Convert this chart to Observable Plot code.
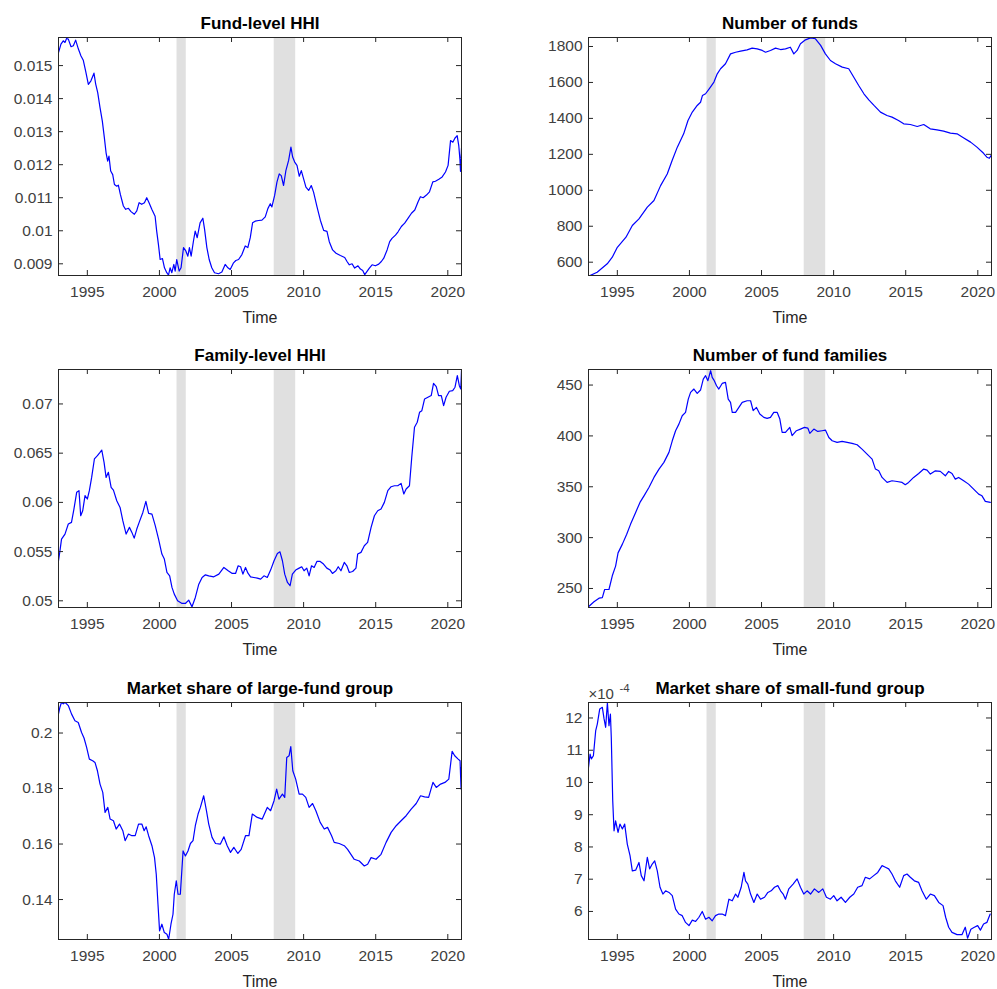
<!DOCTYPE html>
<html>
<head>
<meta charset="utf-8">
<script src="https://cdn.jsdelivr.net/npm/d3@7"></script>
<script src="https://cdn.jsdelivr.net/npm/@observablehq/plot@0.6"></script>
<style>
  html, body { margin: 0; padding: 0; background: white; }
  #root { position: relative; width: 997px; height: 989px; background: white; }
  .panel { position: absolute; }
</style>
</head>
<body>
<div id="root"></div>
<script>
// ---------- data ----------
const xTicks = [1995, 2000, 2005, 2010, 2015, 2020];
const xDomain = [1993, 2020.95];
const recessions = [[2001.22, 2001.86], [2007.96, 2009.45]];

const fundHHI = [[1993.0,0.01539],[1993.17,0.01565],[1993.33,0.01575],[1993.45,0.0157],[1993.56,0.01582],[1993.68,0.0158],[1993.87,0.01557],[1994.03,0.0156],[1994.19,0.01577],[1994.38,0.0155],[1994.56,0.01529],[1994.72,0.01516],[1994.88,0.01484],[1995.07,0.01443],[1995.25,0.01454],[1995.46,0.01477],[1995.58,0.01444],[1995.72,0.01418],[1995.88,0.01373],[1996.04,0.01332],[1996.18,0.01282],[1996.30,0.01236],[1996.41,0.01211],[1996.50,0.01226],[1996.62,0.01181],[1996.76,0.0117],[1996.88,0.0114],[1997.04,0.01135],[1997.15,0.01138],[1997.29,0.0111],[1997.50,0.01075],[1997.66,0.01065],[1997.85,0.01068],[1998.03,0.01058],[1998.26,0.0105],[1998.43,0.0106],[1998.59,0.01085],[1998.77,0.0108],[1998.96,0.01085],[1999.12,0.011],[1999.28,0.01085],[1999.47,0.01065],[1999.70,0.01044],[1999.81,0.00999],[1999.93,0.00959],[2000.05,0.00913],[2000.21,0.00916],[2000.35,0.00888],[2000.51,0.00873],[2000.63,0.00866],[2000.74,0.00888],[2000.86,0.00873],[2001.00,0.00898],[2001.09,0.00878],[2001.20,0.00913],[2001.37,0.00878],[2001.50,0.00888],[2001.67,0.00949],[2001.83,0.00939],[2001.97,0.00923],[2002.08,0.00949],[2002.20,0.00923],[2002.36,0.00969],[2002.48,0.00999],[2002.62,0.00979],[2002.82,0.01024],[2003.01,0.01038],[2003.13,0.01005],[2003.29,0.00949],[2003.45,0.00913],[2003.63,0.00888],[2003.82,0.00873],[2004.10,0.0087],[2004.33,0.00875],[2004.56,0.00898],[2004.75,0.00888],[2004.91,0.00883],[2005.14,0.00903],[2005.30,0.0091],[2005.49,0.00913],[2005.72,0.00928],[2005.95,0.00954],[2006.13,0.00949],[2006.30,0.00979],[2006.46,0.01024],[2006.64,0.01029],[2006.88,0.01031],[2007.11,0.01032],[2007.34,0.01042],[2007.52,0.01067],[2007.69,0.01082],[2007.80,0.01072],[2007.99,0.01107],[2008.15,0.01147],[2008.31,0.01172],[2008.45,0.01167],[2008.61,0.01137],[2008.77,0.01182],[2008.96,0.01213],[2009.12,0.01253],[2009.24,0.01223],[2009.38,0.01208],[2009.54,0.01198],[2009.70,0.01165],[2009.84,0.01182],[2010.00,0.01157],[2010.16,0.01132],[2010.35,0.01122],[2010.53,0.01137],[2010.69,0.01117],[2010.93,0.01072],[2011.16,0.01032],[2011.39,0.01001],[2011.62,0.00998],[2011.78,0.00967],[2012.01,0.00942],[2012.25,0.00932],[2012.55,0.00925],[2012.85,0.00919],[2013.01,0.00907],[2013.17,0.00897],[2013.36,0.009],[2013.54,0.00887],[2013.77,0.00894],[2013.94,0.00884],[2014.10,0.0088],[2014.24,0.00867],[2014.40,0.00877],[2014.56,0.00887],[2014.75,0.00897],[2014.98,0.00894],[2015.21,0.00899],[2015.39,0.00907],[2015.56,0.00917],[2015.79,0.00942],[2015.97,0.00967],[2016.13,0.00977],[2016.37,0.00987],[2016.55,0.00997],[2016.78,0.01013],[2017.01,0.01023],[2017.25,0.01038],[2017.48,0.01053],[2017.71,0.01063],[2017.94,0.01088],[2018.10,0.01103],[2018.29,0.011],[2018.52,0.01108],[2018.73,0.01118],[2018.96,0.01148],[2019.14,0.0115],[2019.38,0.01156],[2019.61,0.01163],[2019.84,0.01178],[2020.02,0.01198],[2020.19,0.01273],[2020.35,0.01268],[2020.49,0.0128],[2020.65,0.01288],[2020.76,0.01258],[2020.84,0.01217],[2020.88,0.0118],[2020.95,0.0125]];

const numFunds = [[1993.0,522],[1993.6,544],[1994.3,591],[1994.65,628],[1995.0,683],[1995.6,739],[1996.04,804],[1996.5,841],[1997.08,906],[1997.54,943],[1998.0,1026],[1998.46,1091],[1998.8,1166],[1999.16,1240],[1999.6,1314],[1999.9,1388],[2000.2,1435],[2000.54,1472],[2000.77,1490],[2000.9,1527],[2001.12,1537],[2001.42,1570],[2001.7,1602],[2001.93,1648],[2002.16,1676],[2002.5,1704],[2002.85,1759],[2003.2,1768],[2003.55,1774],[2004.0,1781],[2004.35,1791],[2004.7,1787],[2005.05,1778],[2005.28,1768],[2005.62,1778],[2005.97,1791],[2006.32,1783],[2006.66,1787],[2007.0,1796],[2007.24,1759],[2007.47,1778],[2007.7,1815],[2008.05,1837],[2008.4,1848],[2008.74,1843],[2009.1,1806],[2009.43,1759],[2009.78,1722],[2010.13,1704],[2010.6,1685],[2011.05,1676],[2011.4,1629],[2011.74,1583],[2012.1,1537],[2012.44,1503],[2012.8,1472],[2013.25,1435],[2013.7,1416],[2014.05,1407],[2014.5,1388],[2014.86,1370],[2015.32,1366],[2015.8,1355],[2016.25,1366],[2016.7,1342],[2017.17,1336],[2017.63,1329],[2018.1,1318],[2018.56,1314],[2019.0,1292],[2019.5,1268],[2019.94,1240],[2020.4,1206],[2020.63,1184],[2020.8,1178],[2020.93,1195]];

const familyHHI = [[1993.0,0.05407],[1993.1,0.05508],[1993.21,0.05627],[1993.45,0.05678],[1993.68,0.0578],[1993.9,0.05797],[1994.07,0.05932],[1994.26,0.06102],[1994.42,0.06119],[1994.54,0.05864],[1994.68,0.05915],[1994.84,0.06068],[1995.0,0.06034],[1995.14,0.06119],[1995.3,0.06254],[1995.49,0.06441],[1995.7,0.06475],[1995.88,0.06508],[1996.0,0.06532],[1996.16,0.06407],[1996.3,0.06254],[1996.46,0.06305],[1996.65,0.06153],[1996.81,0.06125],[1997.04,0.06017],[1997.27,0.05949],[1997.46,0.05814],[1997.69,0.05678],[1997.92,0.05746],[1998.09,0.05695],[1998.25,0.05637],[1998.43,0.05729],[1998.62,0.05807],[1998.85,0.05898],[1999.06,0.0601],[1999.25,0.05888],[1999.48,0.05881],[1999.71,0.05763],[1999.94,0.05627],[2000.17,0.05475],[2000.34,0.05424],[2000.52,0.05288],[2000.71,0.05254],[2000.87,0.05136],[2001.03,0.05068],[2001.26,0.05],[2001.57,0.04973],[2001.8,0.04973],[2002.03,0.05007],[2002.26,0.04939],[2002.49,0.05034],[2002.73,0.05169],[2002.96,0.05237],[2003.19,0.05264],[2003.42,0.05254],[2003.77,0.05244],[2004.12,0.05271],[2004.47,0.05339],[2004.77,0.05305],[2005.05,0.05278],[2005.28,0.05278],[2005.46,0.05356],[2005.63,0.05346],[2005.79,0.05271],[2005.97,0.05339],[2006.14,0.05281],[2006.32,0.05244],[2006.55,0.05237],[2006.79,0.0523],[2007.02,0.0522],[2007.25,0.05254],[2007.48,0.05237],[2007.71,0.05312],[2007.95,0.05407],[2008.18,0.05481],[2008.36,0.05498],[2008.53,0.05407],[2008.69,0.05271],[2008.88,0.05186],[2009.06,0.05153],[2009.22,0.05271],[2009.45,0.05312],[2009.69,0.05332],[2009.87,0.05346],[2010.03,0.05305],[2010.22,0.05332],[2010.38,0.05254],[2010.55,0.05356],[2010.73,0.05339],[2010.92,0.054],[2011.15,0.054],[2011.38,0.05373],[2011.61,0.05332],[2011.84,0.05312],[2012.0,0.05278],[2012.24,0.05305],[2012.4,0.05346],[2012.59,0.05305],[2012.82,0.0539],[2013.0,0.05356],[2013.17,0.05288],[2013.4,0.05298],[2013.63,0.05332],[2013.75,0.05475],[2013.98,0.05492],[2014.21,0.05559],[2014.44,0.05593],[2014.68,0.05746],[2014.91,0.05864],[2015.14,0.05915],[2015.37,0.05932],[2015.6,0.06],[2015.84,0.06119],[2016.07,0.06159],[2016.3,0.06169],[2016.53,0.06169],[2016.76,0.06193],[2016.95,0.06085],[2017.11,0.06136],[2017.34,0.06169],[2017.5,0.06458],[2017.69,0.06763],[2017.88,0.06814],[2018.04,0.06915],[2018.2,0.06932],[2018.39,0.07051],[2018.62,0.07068],[2018.85,0.07085],[2019.01,0.0721],[2019.2,0.07176],[2019.36,0.07085],[2019.55,0.07085],[2019.71,0.06983],[2019.88,0.07068],[2020.11,0.07129],[2020.34,0.07136],[2020.5,0.0717],[2020.66,0.07288],[2020.8,0.07186],[2020.9,0.07153],[2020.95,0.0734]];

const numFamilies = [[1993.0,232],[1993.38,237],[1993.73,240.5],[1993.96,241],[1994.12,249],[1994.42,249],[1994.65,262.5],[1994.88,272],[1995.05,285],[1995.35,293.6],[1995.65,303.4],[1995.92,313.3],[1996.27,324.8],[1996.57,334.6],[1996.85,341.1],[1997.19,349.3],[1997.54,359.2],[1997.89,367.4],[1998.23,374],[1998.58,383.8],[1998.81,395.2],[1999.04,405.1],[1999.27,411.6],[1999.5,419.8],[1999.73,423.1],[1999.92,436.2],[2000.08,442.8],[2000.31,446.1],[2000.54,441.8],[2000.77,445.1],[2000.96,455.9],[2001.12,459.2],[2001.28,454.3],[2001.47,464.1],[2001.58,457.5],[2001.7,454.9],[2001.88,449.3],[2002.04,446.1],[2002.27,451.6],[2002.5,452.6],[2002.69,436.2],[2002.85,433],[2002.97,423.1],[2003.2,423.1],[2003.43,428],[2003.66,433],[2004.0,434.6],[2004.24,434.6],[2004.42,424.8],[2004.65,428],[2004.88,421.5],[2005.16,418.2],[2005.39,417.2],[2005.62,418.2],[2005.85,423.1],[2006.09,423.1],[2006.27,416.6],[2006.43,403.4],[2006.66,403.4],[2006.96,408.4],[2007.12,400.2],[2007.42,405.1],[2007.7,406.7],[2007.98,408.4],[2008.21,407.7],[2008.35,402.5],[2008.63,406.7],[2008.9,404.4],[2009.2,405.1],[2009.43,405.7],[2009.67,398.4],[2009.9,395.2],[2010.24,393.6],[2010.59,394.6],[2010.94,393.6],[2011.28,392.6],[2011.63,391.3],[2011.97,387],[2012.32,382.1],[2012.67,377.2],[2012.9,367.4],[2013.13,365.7],[2013.36,359.2],[2013.71,354.3],[2014.05,355.9],[2014.4,355.2],[2014.75,354.3],[2014.97,352],[2015.2,354.3],[2015.55,359.2],[2015.9,363.1],[2016.25,367.4],[2016.48,366.4],[2016.71,362.5],[2017.06,365.7],[2017.4,365.1],[2017.75,360.8],[2017.98,365.1],[2018.21,363.1],[2018.44,357.5],[2018.67,359.2],[2019.02,355.9],[2019.36,352.6],[2019.71,347.7],[2020.06,342.8],[2020.29,341.1],[2020.52,335.6],[2020.87,334.6]];

const largeShare = [[1993.0,0.2069],[1993.1,0.2093],[1993.21,0.2111],[1993.33,0.2105],[1993.45,0.2111],[1993.68,0.2099],[1993.9,0.2069],[1994.14,0.2044],[1994.37,0.2038],[1994.6,0.2002],[1994.77,0.1982],[1994.95,0.1948],[1995.14,0.1906],[1995.37,0.19],[1995.53,0.1894],[1995.7,0.1864],[1995.88,0.1816],[1996.07,0.1786],[1996.23,0.1714],[1996.42,0.1732],[1996.58,0.169],[1996.81,0.1684],[1997.0,0.1654],[1997.23,0.1672],[1997.46,0.1648],[1997.62,0.1612],[1997.85,0.1636],[1998.09,0.163],[1998.32,0.163],[1998.55,0.1672],[1998.78,0.1672],[1998.94,0.1648],[1999.08,0.1662],[1999.25,0.163],[1999.48,0.1594],[1999.66,0.1551],[1999.78,0.1491],[1999.9,0.1383],[2000.01,0.1287],[2000.17,0.1311],[2000.34,0.1281],[2000.52,0.1275],[2000.64,0.1257],[2000.8,0.1311],[2000.94,0.1347],[2001.03,0.1419],[2001.17,0.1467],[2001.29,0.1419],[2001.45,0.1419],[2001.64,0.1575],[2001.8,0.1557],[2001.98,0.1575],[2002.15,0.1602],[2002.33,0.1612],[2002.49,0.1666],[2002.68,0.1708],[2002.84,0.1732],[2003.07,0.1774],[2003.26,0.172],[2003.42,0.1672],[2003.65,0.1624],[2003.89,0.1602],[2004.23,0.16],[2004.47,0.1626],[2004.7,0.1594],[2004.93,0.157],[2005.16,0.1588],[2005.44,0.1566],[2005.67,0.1581],[2005.97,0.163],[2006.21,0.163],[2006.44,0.1708],[2006.79,0.1696],[2007.13,0.169],[2007.48,0.1732],[2007.71,0.172],[2007.95,0.1756],[2008.13,0.1798],[2008.29,0.1762],[2008.53,0.178],[2008.69,0.1768],[2008.83,0.1912],[2008.99,0.1918],[2009.11,0.1951],[2009.25,0.1864],[2009.45,0.1834],[2009.69,0.178],[2009.92,0.178],[2010.15,0.1768],[2010.38,0.1732],[2010.62,0.1746],[2010.85,0.172],[2011.15,0.1678],[2011.43,0.1654],[2011.66,0.166],[2011.94,0.163],[2012.12,0.1606],[2012.47,0.1602],[2012.82,0.1594],[2013.05,0.1581],[2013.28,0.1563],[2013.51,0.1545],[2013.86,0.1539],[2014.21,0.1521],[2014.44,0.1527],[2014.68,0.1551],[2015.02,0.1545],[2015.37,0.1563],[2015.72,0.1606],[2016.07,0.1642],[2016.42,0.1666],[2016.76,0.1684],[2017.11,0.1702],[2017.46,0.1726],[2017.81,0.1746],[2018.11,0.1774],[2018.39,0.177],[2018.67,0.1768],[2018.97,0.1822],[2019.2,0.1804],[2019.5,0.1816],[2019.8,0.1822],[2020.07,0.1834],[2020.3,0.1934],[2020.48,0.1918],[2020.72,0.1906],[2020.85,0.19],[2020.92,0.1798],[2020.95,0.1876]];

// values in units of 1e-4
const smallShare = [[1993.0,10.47],[1993.11,10.88],[1993.2,10.73],[1993.34,10.83],[1993.5,11.61],[1993.61,11.81],[1993.78,12.28],[1993.96,12.33],[1994.08,11.97],[1994.19,11.71],[1994.31,12.47],[1994.42,11.76],[1994.52,12.12],[1994.58,11.4],[1994.68,9.44],[1994.77,8.5],[1994.88,8.81],[1995.05,8.45],[1995.18,8.71],[1995.35,8.56],[1995.51,8.71],[1995.69,8.09],[1995.88,7.73],[1996.04,7.26],[1996.27,7.28],[1996.5,7.52],[1996.66,7.11],[1996.85,6.95],[1997.08,7.68],[1997.24,7.32],[1997.42,7.47],[1997.59,7.57],[1997.77,7.26],[1997.96,6.75],[1998.16,6.54],[1998.35,6.64],[1998.58,6.59],[1998.81,6.49],[1999.04,6.07],[1999.27,5.92],[1999.5,5.87],[1999.73,5.66],[1999.97,5.56],[2000.2,5.73],[2000.43,5.69],[2000.66,5.82],[2000.89,6.0],[2001.12,5.76],[2001.35,5.82],[2001.58,5.71],[2001.81,5.87],[2002.04,5.92],[2002.27,5.92],[2002.5,5.87],[2002.74,6.38],[2002.97,6.33],[2003.2,6.54],[2003.36,6.44],[2003.59,6.75],[2003.78,7.21],[2003.89,6.95],[2004.05,6.85],[2004.24,6.54],[2004.47,6.28],[2004.7,6.54],[2004.93,6.38],[2005.21,6.44],[2005.44,6.59],[2005.67,6.64],[2005.9,6.75],[2006.13,6.8],[2006.32,6.64],[2006.5,6.54],[2006.66,6.38],[2006.89,6.7],[2007.19,6.85],[2007.47,7.01],[2007.7,6.75],[2007.93,6.54],[2008.16,6.64],[2008.4,6.54],[2008.67,6.7],[2008.97,6.59],[2009.25,6.7],[2009.5,6.44],[2009.78,6.38],[2010.01,6.49],[2010.24,6.33],[2010.52,6.44],[2010.82,6.28],[2011.12,6.44],[2011.4,6.54],[2011.67,6.75],[2011.97,6.8],[2012.2,7.06],[2012.5,7.01],[2012.78,7.11],[2013.06,7.21],[2013.36,7.42],[2013.59,7.37],[2013.82,7.32],[2014.05,7.16],[2014.28,6.95],[2014.58,6.75],[2014.86,7.11],[2015.09,7.16],[2015.32,7.06],[2015.6,6.95],[2015.9,6.9],[2016.13,6.64],[2016.43,6.38],[2016.71,6.54],[2016.99,6.49],[2017.29,6.28],[2017.59,6.18],[2017.77,5.82],[2017.98,5.51],[2018.21,5.35],[2018.56,5.28],[2018.9,5.28],[2019.13,5.51],[2019.29,5.17],[2019.52,5.45],[2019.76,5.51],[2019.99,5.56],[2020.18,5.42],[2020.4,5.61],[2020.63,5.66],[2020.86,5.92]];

const titles = ["Fund-level HHI", "Number of funds", "Family-level HHI", "Number of fund families", "Market share of large-fund group", "Market share of small-fund group"];
const yTicks1 = [0.009, 0.010, 0.011, 0.012, 0.013, 0.014, 0.015];
const yTicks2 = [600, 800, 1000, 1200, 1400, 1600, 1800];
const yTicks3 = [0.05, 0.055, 0.06, 0.065, 0.07];
const yTicks4 = [250, 300, 350, 400, 450];
const yTicks5 = [0.14, 0.16, 0.18, 0.2];
const yTicks6 = [6, 7, 8, 9, 10, 11, 12];

// ---------- drawing ----------
const FONT = "'Liberation Sans', Arial, Helvetica, sans-serif";
const fmt = d => String(+d.toFixed(6));

function panel(o) {
  const {title, data, yDomain, yTicks, left, top, width, height, ml, mr, mt, mb, extra = []} = o;
  const fh = height - mt - mb, fw = width - ml - mr, tl = 5;
  const chart = Plot.plot({
    width, height,
    marginLeft: ml, marginRight: mr, marginTop: mt, marginBottom: mb,
    style: {fontFamily: FONT, fontSize: "15.5px", color: "#404040", background: "transparent", overflow: "visible"},
    x: {domain: xDomain, ticks: xTicks, tickFormat: d => String(d), tickSize: 0, tickPadding: 10, label: null},
    y: {domain: yDomain, ticks: yTicks, tickFormat: fmt, tickSize: 0, tickPadding: 6, label: null},
    marks: [
      Plot.rect(recessions, {x1: d => d[0], x2: d => d[1], y1: () => yDomain[0], y2: () => yDomain[1], fill: "#e0e0e0"}),
      Plot.line(data, {x: d => d[0], y: d => d[1], stroke: "#0000ff", strokeWidth: 1.2, clip: true}),
      Plot.tickX(xTicks, {x: d => d, insetTop: fh - tl, stroke: "#262626"}),
      Plot.tickX(xTicks, {x: d => d, insetBottom: fh - tl, stroke: "#262626"}),
      Plot.tickY(yTicks, {y: d => d, insetRight: fw - tl, stroke: "#262626"}),
      Plot.tickY(yTicks, {y: d => d, insetLeft: fw - tl, stroke: "#262626"}),
      Plot.frame({stroke: "#262626"}),
      Plot.text([title], {text: d => d, frameAnchor: "top", dy: -14, lineAnchor: "middle", fontWeight: "bold", fontSize: 17, fill: "#000"}),
      Plot.text(["Time"], {text: d => d, frameAnchor: "bottom", dy: 42, lineAnchor: "middle", fontSize: 16, fill: "#262626"}),
      ...extra
    ]
  });
  chart.classList.add("panel");
  chart.style.left = left + "px";
  chart.style.top = top + "px";
  chart.style.position = "absolute";
  document.getElementById("root").appendChild(chart);
}

const L = {left: 0, width: 498, ml: 58, mr: 37};
const R = {left: 498, width: 499, ml: 90, mr: 6};
const row1 = {top: 0, height: 330, mt: 37, mb: 55};
const row2 = {top: 330, height: 330, mt: 39, mb: 53};
const row3 = {top: 660, height: 329, mt: 42, mb: 50};

panel({...L, ...row1, title: titles[0], data: fundHHI, yDomain: [0.008646, 0.01585], yTicks: yTicks1});
panel({...R, ...row1, title: titles[1], data: numFunds, yDomain: [526, 1850], yTicks: yTicks2});
panel({...L, ...row2, title: titles[2], data: familyHHI, yDomain: [0.04932, 0.0735], yTicks: yTicks3});
panel({...R, ...row2, title: titles[3], data: numFamilies, yDomain: [231.3, 465.3], yTicks: yTicks4});
panel({...L, ...row3, title: titles[4], data: largeShare, yDomain: [0.1256, 0.211], yTicks: yTicks5});
panel({...R, ...row3, title: titles[5], data: smallShare, yDomain: [5.13, 12.48], yTicks: yTicks6,
  extra: [
    Plot.text(["×10"], {text: d => d, frameAnchor: "top-left", textAnchor: "start", lineAnchor: "bottom", dx: 0, dy: -4, fontSize: 15, fill: "#404040"}),
    Plot.text(["-4"], {text: d => d, frameAnchor: "top-left", textAnchor: "start", lineAnchor: "bottom", dx: 31, dy: -11, fontSize: 11.5, fill: "#404040"})
  ]});
</script>
</body>
</html>
